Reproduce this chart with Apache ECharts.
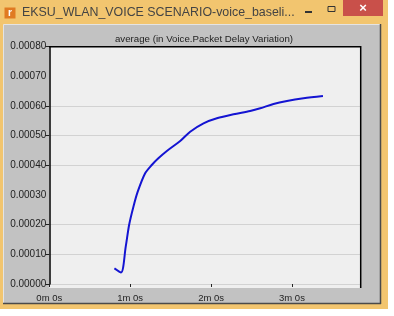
<!DOCTYPE html>
<html><head><meta charset="utf-8">
<script src="https://cdn.jsdelivr.net/npm/echarts@6/dist/echarts.min.js"></script>
<style>html,body{margin:0;padding:0;background:#fff}#c{width:394px;height:316px}</style>
</head><body><div id="c"></div>
<script>
// time in seconds
var timeSec = [48.3, 53.2, 56.7, 59.2, 62.4, 65.6, 71.1, 76.0, 80.9, 87.2, 97.1, 104.5, 114.4, 124.3, 136.6, 149.0, 156.5, 166.3, 176.3, 188.6, 203.0];
var delayVar = [0.0000529, 0.0000391, 0.0001258, 0.0001989, 0.0002606, 0.0003112, 0.0003732, 0.0004012, 0.0004238, 0.0004484, 0.0004821, 0.0005135, 0.0005418, 0.0005587, 0.0005722, 0.0005833, 0.0005924, 0.0006069, 0.0006170, 0.0006261, 0.0006339];
var xTicks = [0, 60, 120, 180];
var yLabels = [0, 0.0001, 0.0002, 0.0003, 0.0004, 0.0005, 0.0006, 0.0007, 0.0008];
var yTicks = [0, 0.0001, 0.0002, 0.0004, 0.0005, 0.0006, 0.0008];
var windowTitle = 'EKSU_WLAN_VOICE SCENARIO-voice_baseli...';
var chartTitle = 'average (in Voice.Packet Delay Variation)';

var data = timeSec.map(function(t, i){ return [t, delayVar[i]]; });
var chart = echarts.init(document.getElementById('c'), null, {renderer:'canvas'});
chart.setOption({
  animation:false,
  backgroundColor:'#ffffff',
  grid:{left:49.3, top:46.7, right:33.3, bottom:32, containLabel:false, show:true, backgroundColor:'#EFEFEF', borderWidth:0},
  graphic:[
    {type:'rect', z:-10, shape:{x:0,y:0,width:388,height:309}, style:{fill:'#F2C56F'}},
    {type:'rect', z:-9, shape:{x:3.5,y:24.5,width:377,height:279}, style:{fill:'#C2C2C2', stroke:'#E4E4E4', lineWidth:1}},
    {type:'line', z:-8, shape:{x1:380.5,y1:24,x2:380.5,y2:304}, style:{stroke:'#4A4A4A', lineWidth:1.5}},
    {type:'line', z:-8, shape:{x1:3,y1:303.5,x2:381,y2:303.5}, style:{stroke:'#4A4A4A', lineWidth:1.5}},
    {type:'rect', z:-7, shape:{x:49.3,y:283.5,width:311.4,height:4.5}, style:{fill:'#EFEFEF'}},
    {type:'line', z:5, shape:{x1:49,y1:46.7,x2:360.7,y2:46.7}, style:{stroke:'#000', lineWidth:1.5}},
    {type:'line', z:5, shape:{x1:360.7,y1:46,x2:360.7,y2:288}, style:{stroke:'#000', lineWidth:1.5}},
    {type:'rect', z:-6, shape:{x:4.5,y:7.5,width:11,height:11}, style:{fill:'#E07A22'}},
    {type:'text', z:-5, style:{x:10,y:13,text:'r',fill:'#fff',font:'bold 10px Arial',align:'center',verticalAlign:'middle'}},
    {type:'text', z:-5, style:{x:22,y:13,text:windowTitle,fill:'#444',font:'12.4px "Liberation Sans", Arial',verticalAlign:'middle'}},
    {type:'rect', z:-6, shape:{x:305,y:11,width:7,height:2}, style:{fill:'#333'}},
    {type:'rect', z:-6, shape:{x:328,y:6.5,width:7,height:5}, style:{fill:'none',stroke:'#333',lineWidth:1}},
    {type:'rect', z:-6, shape:{x:343,y:0,width:40,height:16}, style:{fill:'#C9504A'}},
    {type:'text', z:-5, style:{x:363,y:8,text:'×',fill:'#fff',font:'bold 13px Arial',align:'center',verticalAlign:'middle'}},
    {type:'text', z:-5, style:{x:204,y:39.5,text:chartTitle,fill:'#222',font:'9.7px "Liberation Sans", Arial',align:'center',verticalAlign:'middle'}}
  ],
  xAxis:{type:'value', min:0, max:231, offset:4,
    axisLine:{show:false},
    axisTick:{show:true, length:3, customValues:xTicks, lineStyle:{color:'#222'}},
    axisLabel:{customValues:xTicks, margin:5, color:'#222', fontSize:9.5, fontFamily:'"Liberation Sans", Arial',
      formatter:function(v){ return (v/60)+'m 0s'; }},
    splitLine:{show:false}},
  yAxis:{type:'value', min:0, max:0.0008,
    axisLine:{show:true, lineStyle:{color:'#000', width:1.5}},
    axisTick:{show:true, length:4, customValues:yTicks, lineStyle:{color:'#222'}},
    axisLabel:{customValues:yLabels, margin:3, color:'#222', fontSize:10, fontFamily:'"Liberation Sans", Arial',
      formatter:function(v){ return v.toFixed(5); }},
    splitLine:{show:true, lineStyle:{color:'#D2D2D2', width:1}}},
  series:[{type:'line', data:data, symbol:'none', smooth:0.3, z:3,
    lineStyle:{color:'#1414D2', width:2}}]
});
</script></body></html>
